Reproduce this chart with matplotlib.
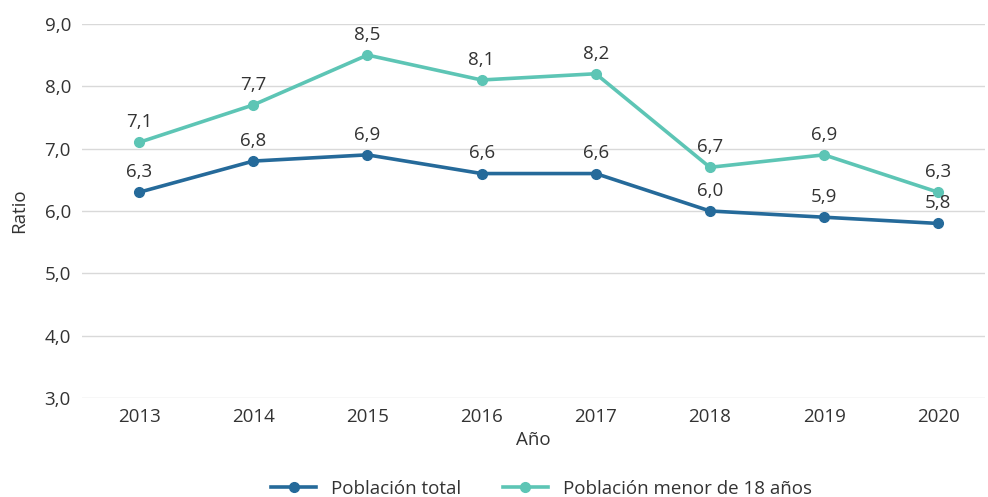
import matplotlib
matplotlib.use("Agg")
import matplotlib.pyplot as plt

years = ["2013", "2014", "2015", "2016", "2017", "2018", "2019", "2020"]
poblacion_total = [6.3, 6.8, 6.9, 6.6, 6.6, 6.0, 5.9, 5.8]
poblacion_menor_18 = [7.1, 7.7, 8.5, 8.1, 8.2, 6.7, 6.9, 6.3]

plt.rcParams['font.family'] = ['Open Sans', 'DejaVu Sans']
text_color = '#333333'
fs = 13.5

fig = plt.figure(figsize=(9.88, 4.97), dpi=100)
ax = fig.add_axes([0.083, 0.199, 0.914, 0.753])

x = list(range(len(years)))
series = [
    (poblacion_total, '#256A9A', 'Población total'),
    (poblacion_menor_18, '#5DC5B5', 'Población menor de 18 años'),
]
for values, color, label in series:
    ax.plot(x, values, color=color, linewidth=2.6, marker='o', markersize=7, label=label)
    for xi, v in zip(x, values):
        ax.annotate(f"{v:.1f}".replace('.', ','), (xi, v), xytext=(0, 8),
                    textcoords='offset points', ha='center', va='bottom',
                    fontsize=fs, color=text_color)

ax.set_xlim(-0.5, len(years) - 0.59)
ax.set_ylim(3.0, 9.0)
ax.set_yticks([3, 4, 5, 6, 7, 8, 9])
ax.set_yticklabels([f"{t:.1f}".replace('.', ',') for t in [3, 4, 5, 6, 7, 8, 9]])
ax.set_xticks(x)
ax.set_xticklabels(years)
ax.tick_params(axis='both', length=0, labelsize=fs, labelcolor=text_color)
ax.tick_params(axis='x', pad=7)
ax.tick_params(axis='y', pad=8)
ax.grid(axis='y', color='#d9d9d9', linewidth=1)
ax.set_axisbelow(True)
for s in ax.spines.values():
    s.set_visible(False)

ax.set_xlabel('Año', fontsize=fs, color=text_color, labelpad=4)
ax.set_ylabel('Ratio', fontsize=fs, color=text_color, labelpad=12)

fig.legend(loc='lower center', bbox_to_anchor=(0.548, -0.035), ncol=2, frameon=False,
           fontsize=fs, handlelength=2.4, columnspacing=2.2, labelcolor=text_color)

fig.savefig('out.png', dpi=100)
